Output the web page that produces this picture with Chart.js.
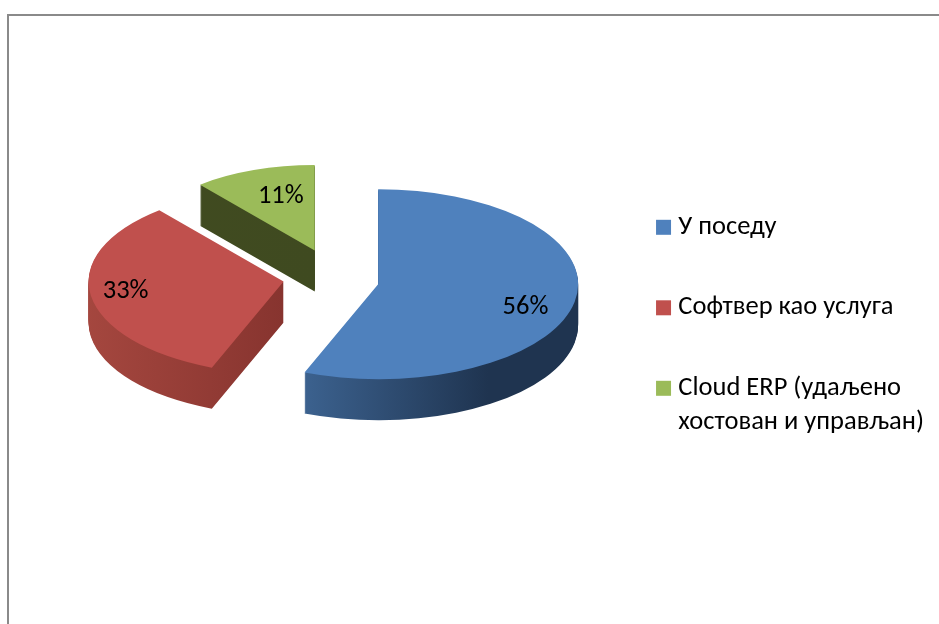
<!DOCTYPE html>
<html>
<head>
<meta charset="utf-8">
<title>ERP</title>
<script src="https://cdn.jsdelivr.net/npm/chart.js@4"></script>
<style>
  html, body { margin: 0; padding: 0; background: #fff; overflow: hidden; }
  #wrap { position: relative; width: 939px; height: 624px; overflow: hidden; }
  #frame { position: absolute; left: 7px; top: 14px; width: 1000px; height: 1000px; border: 2px solid #8a8a8a; }
  canvas { position: absolute; left: 0; top: 0; }
</style>
</head>
<body>
<div id="wrap">
  <div id="frame"></div>
  <canvas id="pie" width="939" height="624"></canvas>
</div>
<script>
let categories = ['У поседу', 'Софтвер као услуга', ['Cloud ERP (удаљено', 'хостован и управљан)']];
let shares = [56, 33, 11];
let topColors = ['#4f81bd', '#c0504d', '#9bbb59'];
let wallColors = [['#3c628f', '#1f3450'], ['#a5473f', '#87342f'], ['#414b20', '#3f4a20']];

const fontName = 'Carlito, Lato, "Open Sans", sans-serif';
const tilt = 0.475;
const depth = 41;
const explode = 48;
const centerX = 331;
const centerY = 276;

// squash the flat pie into an ellipse and sweep each slice down for the side walls
const tiltPlugin = {
  id: 'tilt',
  afterDatasetsUpdate(chart, args, opts) {
    // pull the slices apart here, the arc offset option also narrows each slice
    let arcs = chart.getDatasetMeta(0).data;
    chart.$pieX = arcs[0].x;
    chart.$pieY = arcs[0].y;
    arcs.forEach((arc, i) => {
      let mid = (arc.startAngle + arc.endAngle) / 2;
      arc.x += Math.cos(mid) * explode;
      arc.y += Math.sin(mid) * explode + opts.lift[i] / tilt;
      // far slices look a bit smaller in the perspective
      arc.outerRadius *= opts.size[i];
    });
  },
  beforeDatasetsDraw(chart) {
    const ctx = chart.ctx;
    const arcs = chart.getDatasetMeta(0).data;
    ctx.save();
    ctx.translate(centerX - chart.$pieX, centerY);
    ctx.scale(1, tilt);
    ctx.translate(0, -chart.$pieY);

    arcs.forEach((arc, i) => {
      let grad = ctx.createLinearGradient(arc.x - 200, 0, arc.x, 0);
      if (i == 0) {
        grad = ctx.createLinearGradient(arc.x - 75, 0, arc.x + 110, 0);
      }
      grad.addColorStop(0, wallColors[i][0]);
      grad.addColorStop(1, wallColors[i][1]);

      let wall = Object.create(arc);
      wall.options = Object.assign({}, arc.options, { backgroundColor: grad, borderWidth: 0 });
      for (let d = depth; d > 0; d--) {
        ctx.save();
        ctx.translate(0, d / tilt);
        wall.draw(ctx);
        ctx.restore();
      }
    });
  },
  afterDatasetsDraw(chart, args, opts) {
    const ctx = chart.ctx;
    ctx.restore();

    const arcs = chart.getDatasetMeta(0).data;
    ctx.save();
    ctx.font = '26.5px ' + fontName;
    ctx.fillStyle = '#000';
    ctx.textAlign = 'center';
    ctx.textBaseline = 'middle';
    arcs.forEach((arc, i) => {
      let mid = (arc.startAngle + arc.endAngle) / 2;
      let dist = explode + arc.outerRadius * opts.reach[i];
      let x = centerX + Math.cos(mid) * dist;
      let y = centerY + Math.sin(mid) * dist * tilt + opts.nudge[i];
      ctx.fillText(shares[i] + '%', x, y);
    });
    ctx.restore();
  }
};

new Chart(document.getElementById('pie').getContext('2d'), {
  type: 'pie',
  data: {
    labels: categories,
    datasets: [{
      data: shares,
      backgroundColor: topColors,
      borderWidth: 0,
      radius: 200,
      clip: false
    }]
  },
  options: {
    responsive: false,
    animation: false,
    layout: { padding: { top: 34, right: 5 } },
    plugins: {
      tooltip: { enabled: false },
      tilt: {
        size: [1, 0.975, 0.9],
        lift: [4, 2, -4],
        reach: [0.75, 0.82, 0.556],
        nudge: [14, 0, -13]
      },
      legend: {
        position: 'right',
        labels: {
          boxWidth: 3,
          boxHeight: 3,
          padding: 54,
          color: '#000',
          font: { family: fontName, size: 26.5, lineHeight: 1.3 },
          // thick stroke round a tiny box so the text sits close to a 15px swatch
          generateLabels(chart) {
            return Chart.overrides.pie.plugins.legend.labels.generateLabels(chart).map((item, i) => {
              item.strokeStyle = topColors[i];
              item.lineWidth = 12;
              return item;
            });
          }
        }
      }
    }
  },
  plugins: [tiltPlugin]
});
</script>
</body>
</html>
